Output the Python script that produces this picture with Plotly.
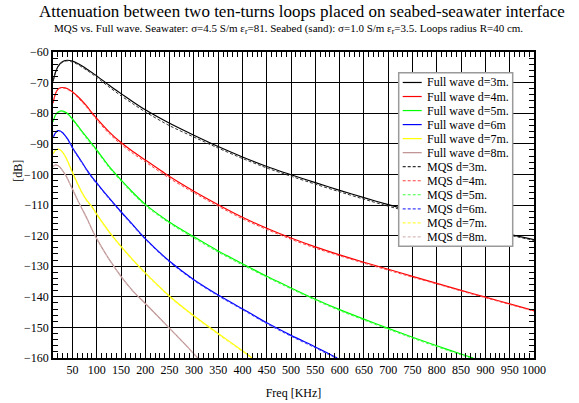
import plotly.graph_objects as go

# ---------------- data ----------------
freq_khz = [10, 15, 20, 25, 30, 35, 40, 50, 60, 70, 80, 90, 100, 125, 150, 175, 200,
            250, 300, 350, 400, 450, 500, 550, 600, 650, 700, 750, 800, 850, 900, 950, 1000]

fw_d3 = [-69.6, -66.6, -64.8, -63.7, -63.1, -62.8, -62.7, -63.0, -63.7, -64.6, -65.6, -66.7, -67.8,
         -70.8, -73.6, -76.3, -78.9, -83.3, -87.2, -90.9, -94.3, -97.4, -100.1, -102.7, -105.2,
         -107.6, -109.9, -112.0, -114.1, -116.0, -117.8, -119.6, -121.3]
mqs_d3 = [-69.6, -66.7, -64.9, -63.9, -63.3, -63.0, -62.9, -63.3, -64.0, -65.0, -66.0, -67.1, -68.3,
          -71.4, -74.3, -77.0, -79.6, -84.1, -87.8, -91.4, -94.8, -97.9, -100.6, -103.2, -105.7,
          -108.1, -110.4, -112.5, -114.5, -116.4, -118.2, -119.9, -121.6]

fw_d4 = [-76.7, -73.6, -72.2, -71.7, -71.6, -71.7, -72.0, -73.0, -74.4, -76.0, -77.8, -79.8, -81.7,
         -86.0, -89.6, -92.6, -95.3, -100.7, -105.5, -109.9, -114.0, -117.6, -120.8, -123.7, -126.3,
         -128.7, -131.0, -133.3, -135.6, -137.9, -140.1, -142.3, -144.5]
mqs_d4 = [-76.7, -73.7, -72.3, -71.8, -71.7, -71.9, -72.2, -73.3, -74.7, -76.4, -78.2, -80.2, -82.2,
          -86.6, -90.2, -93.2, -95.9, -101.3, -106.0, -110.4, -114.5, -118.0, -121.2, -124.1, -126.6,
          -129.0, -131.3, -133.6, -135.8, -138.1, -140.3, -142.5, -144.7]

freq_d5 = [10, 15, 20, 25, 30, 35, 40, 50, 60, 70, 80, 90, 100, 125, 150, 175, 200,
           250, 300, 350, 400, 450, 500, 550, 600, 650, 700, 750, 800, 850, 875]
fw_d5 = [-82.8, -80.6, -79.7, -79.3, -79.3, -79.6, -80.1, -81.9, -83.9, -86.0, -88.0, -90.0, -92.0,
         -97.3, -101.8, -106.0, -109.8, -115.6, -120.4, -125.0, -129.2, -133.3, -137.1, -140.8, -144.2,
         -147.3, -150.3, -153.2, -156.0, -158.7, -160.0]
mqs_d5 = [-82.8, -80.7, -79.8, -79.4, -79.5, -79.8, -80.3, -82.2, -84.2, -86.3, -88.4, -90.4, -92.4,
          -97.7, -102.2, -106.4, -110.2, -116.0, -120.8, -125.4, -129.6, -133.6, -137.4, -141.1, -144.5,
          -147.6, -150.6, -153.5, -156.3, -159.0, -160.3]

freq_d6 = [10, 15, 20, 25, 30, 35, 40, 50, 60, 70, 80, 90, 100, 125, 150, 175, 200,
           250, 300, 350, 400, 450, 500, 550, 595]
fw_d6 = [-88.0, -86.4, -85.7, -85.8, -86.4, -87.3, -88.4, -91.2, -93.7, -96.1, -98.6, -100.8, -102.8,
         -107.6, -112.2, -116.6, -121.0, -128.4, -134.4, -139.4, -143.9, -148.5, -152.6, -156.4, -160.0]
mqs_d6 = [-88.0, -86.5, -85.8, -85.9, -86.6, -87.5, -88.6, -91.5, -94.0, -96.4, -98.9, -101.1, -103.1,
          -107.9, -112.5, -116.9, -121.3, -128.7, -134.7, -139.7, -144.2, -148.8, -152.9, -156.7, -160.3]

freq_d7 = [10, 15, 20, 25, 30, 35, 40, 50, 60, 70, 80, 90, 100, 125, 150, 175, 200,
           250, 300, 350, 400, 420]
fw_d7 = [-93.2, -92.1, -91.7, -92.0, -92.8, -94.0, -95.6, -99.3, -102.8, -106.0, -108.6, -110.5, -113.0,
         -118.6, -123.5, -128.0, -132.2, -139.8, -146.2, -152.0, -157.6, -160.0]
mqs_d7 = [-93.2, -92.2, -91.8, -92.1, -93.0, -94.2, -95.8, -99.6, -103.1, -106.3, -108.9, -110.8, -113.3,
          -118.9, -123.8, -128.3, -132.5, -140.1, -146.5, -152.3, -157.9, -160.3]

freq_d8 = [10, 15, 20, 25, 30, 35, 40, 50, 60, 70, 80, 90, 100, 125, 150, 175, 200, 250, 280, 308]
fw_d8 = [-97.4, -96.9, -97.1, -97.8, -98.8, -100.0, -101.4, -104.8, -108.2, -111.3, -114.4, -117.9,
         -121.0, -127.6, -133.3, -138.2, -142.2, -150.3, -155.2, -160.0]
mqs_d8 = [-97.4, -97.0, -97.2, -97.9, -99.0, -100.2, -101.6, -105.0, -108.4, -111.5, -114.6, -118.1,
          -121.2, -127.8, -133.5, -138.4, -142.4, -150.5, -155.4, -160.2]

fw_names = ["Full wave d=3m.", "Full wave d=4m.", "Full wave d=5m.", "Full wave d=6m",
            "Full wave d=7m.", "Full wave d=8m."]
mqs_names = ["MQS d=3m.", "MQS d=4m.", "MQS d=5m.", "MQS d=6m.", "MQS d=7m.", "MQS d=8m."]
fw_colors = ["#000000", "#ff0000", "#00ff00", "#0000ff", "#ffff00", "#bc8f8f"]
mqs_colors = ["#333333", "#ff4040", "#40ff40", "#4040ff", "#ffff40", "#d8bcbc"]

freqs = [freq_khz, freq_khz, freq_d5, freq_d6, freq_d7, freq_d8]
fw_all = [fw_d3, fw_d4, fw_d5, fw_d6, fw_d7, fw_d8]
mqs_all = [mqs_d3, mqs_d4, mqs_d5, mqs_d6, mqs_d7, mqs_d8]

x_ticks = list(range(50, 1001, 50))
y_ticks = list(range(-160, -59, 10))

FONT = "Liberation Serif, Times New Roman, serif"
MQS_DASH = "3px,2px"

fig = go.Figure()
for f, y, n, c in zip(freqs, fw_all, fw_names, fw_colors):
    fig.add_trace(go.Scatter(x=f, y=y, name=n, mode="lines",
                             line=dict(color=c, width=1.2, shape="spline", smoothing=0.6)))
for f, y, n, c in zip(freqs, mqs_all, mqs_names, mqs_colors):
    fig.add_trace(go.Scatter(x=f, y=y, name=n, mode="lines",
                             line=dict(color=c, width=1, dash=MQS_DASH, shape="spline", smoothing=0.6)))

L, T, PW, PH = 53.3, 52.3, 481.0, 305.2


def px(xp):
    return (xp - L) / PW


def py(yp):
    return 1 - (yp - T) / PH


# ---- legend box (drawn as paper-referenced shapes + texts) ----
shapes = [dict(type="rect", xref="paper", yref="paper", x0=px(399), x1=px(513),
               y0=py(246), y1=py(73), fillcolor="white",
               line=dict(color="#9a9a9a", width=1.5), layer="above")]
annotations = []
entries = list(zip(fw_names, fw_colors, ["solid"] * 6)) + \
          list(zip(mqs_names, mqs_colors, [MQS_DASH] * 6))
for i, (name, col, dash) in enumerate(entries):
    ypix = 82.7 + 14.0 * i
    shapes.append(dict(type="line", xref="paper", yref="paper", x0=px(403), x1=px(422),
                       y0=py(ypix), y1=py(ypix), line=dict(color=col, width=1.2, dash=dash),
                       layer="above"))
    annotations.append(dict(text=name, xref="paper", yref="paper", x=px(425.5), y=py(ypix),
                            xanchor="left", yanchor="middle", showarrow=False,
                            font=dict(family=FONT, size=12)))

annotations += [
    dict(text="Attenuation between two ten-turns loops placed on seabed-seawater interface",
         xref="paper", yref="paper", x=px(302), y=py(12), xanchor="center", yanchor="middle",
         showarrow=False, font=dict(family=FONT, size=17)),
    dict(text="MQS vs. Full wave. Seawater: σ=4.5 S/m ε<sub>r</sub>=81. Seabed (sand): "
              "σ=1.0 S/m ε<sub>r</sub>=3.5. Loops radius R=40 cm.",
         xref="paper", yref="paper", x=px(289), y=py(29), xanchor="center", yanchor="middle",
         showarrow=False, font=dict(family=FONT, size=11)),
    dict(text="[dB]", xref="paper", yref="paper", x=px(18), y=py(171),
         xanchor="center", yanchor="middle", textangle=-90, showarrow=False,
         font=dict(family=FONT, size=12)),
]

fig.update_layout(
    width=579, height=403,
    margin=dict(l=53, r=45, t=52, b=45, autoexpand=False),
    paper_bgcolor="white", plot_bgcolor="white",
    font=dict(family=FONT, size=12, color="black"),
    showlegend=False,
    xaxis=dict(range=[10, 1000], tickvals=x_ticks, ticks="inside", ticklen=8,
               tickcolor="black", showline=True, linecolor="black", linewidth=1.5,
               mirror="allticks", showgrid=True, gridcolor="black", gridwidth=1.2,
               zeroline=False, tickfont=dict(size=12), automargin=False,
               minor=dict(dtick=10, tick0=0, ticks="inside", ticklen=5, tickcolor="black",
                          showgrid=False),
               title=dict(text="Freq [KHz]", font=dict(size=12), standoff=12)),
    yaxis=dict(range=[-160, -60], tickvals=y_ticks, ticks="inside", ticklen=8,
               tickcolor="black", showline=True, linecolor="black", linewidth=1.5,
               mirror="allticks", showgrid=True, gridcolor="black", gridwidth=1.2,
               zeroline=False, tickfont=dict(size=12), automargin=False,
               minor=dict(dtick=2, tick0=0, ticks="inside", ticklen=5, tickcolor="black",
                          showgrid=False)),
    shapes=shapes,
    annotations=annotations,
)

fig.write_html("out.html",
               config={"displayModeBar": False},
               post_script="document.body.style.margin='0';document.body.style.padding='0';"
                           "document.documentElement.style.overflow='hidden';")
